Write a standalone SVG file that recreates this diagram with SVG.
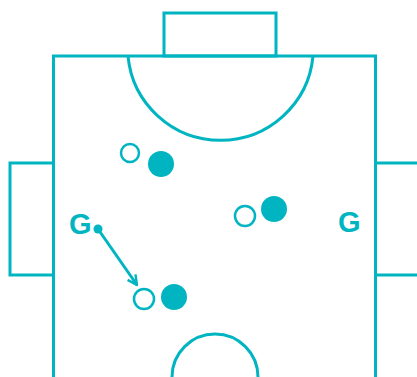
<svg xmlns="http://www.w3.org/2000/svg" width="417" height="377" viewBox="0 0 417 377">
<style>
.ln{fill:none;stroke:#00b5c1;stroke-width:3}
.op{fill:#fff;stroke:#00b5c1;stroke-width:2.5}
.fl{fill:#00b5c1}
.g{font-family:"Liberation Sans",Arial,sans-serif;font-weight:bold;font-size:29px;fill:#00b5c1}
</style>
<defs>
<marker id="ah" viewBox="0 0 10 10" refX="9" refY="5" markerWidth="4" markerHeight="4" orient="auto" markerUnits="strokeWidth">
<path d="M1,1 L9,5 L1,9" fill="none" stroke="#00b5c1" stroke-width="2"/>
</marker>
</defs>
<g id="field">
<rect class="ln" x="53.5" y="56" width="322" height="330"/>
<rect class="ln" x="164" y="13" width="112" height="43"/>
<rect class="ln" x="10" y="163" width="43.5" height="112"/>
<rect class="ln" x="375.5" y="163" width="50" height="112"/>
<path class="ln" d="M128,56 A92.9,92.9 0 0 0 313,56"/>
<path class="ln" d="M172,377 A43,43 0 0 1 258,377"/>
</g>
<g id="player-open-1"><circle class="op" cx="130" cy="153" r="9"/></g>
<g id="player-filled-1"><circle class="fl" cx="161" cy="164" r="13"/></g>
<g id="player-open-2"><circle class="op" cx="245" cy="216" r="10"/></g>
<g id="player-filled-2"><circle class="fl" cx="274" cy="209" r="13"/></g>
<g id="player-open-3"><circle class="op" cx="144" cy="299" r="10"/></g>
<g id="player-filled-3"><circle class="fl" cx="174" cy="297" r="13"/></g>
<g id="goalie-left"><text class="g" x="69" y="234">G</text></g>
<g id="goalie-right"><text class="g" x="338" y="232">G</text></g>
<g id="connectors">
<circle class="fl" cx="98" cy="229" r="4.5"/>
<line class="ln" x1="98" y1="229" x2="137" y2="285" stroke-width="2.5" marker-end="url(#ah)"/>
</g>
</svg>
